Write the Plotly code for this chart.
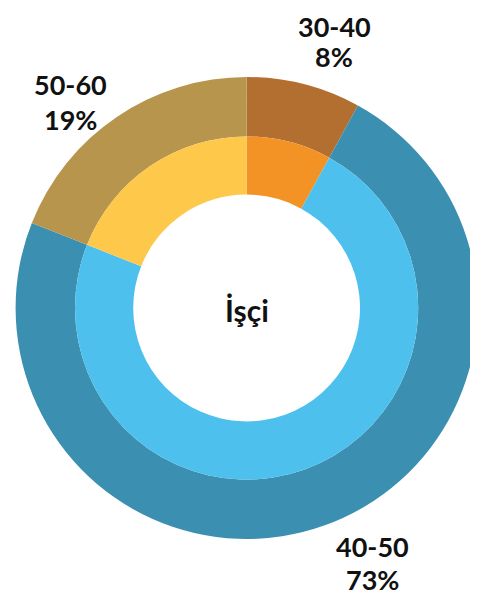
import plotly.graph_objects as go

categories = ["30-40", "40-50", "50-60"]
outer_values = [8, 73, 19]
inner_values = [8, 73, 19]
outer_colors = ["#B36F2F", "#3B8FB0", "#B8954D"]
inner_colors = ["#F39325", "#4EC0EE", "#FEC84A"]
center_title = "İşçi"

OFF = 8  # page body margin
W, H = 478 - OFF, 599 - OFF
cx, cy = 246.6 - OFF, 308.0 - OFF  # pixels inside the figure
r_out, r_mid, r_in = 231.0, 171.6, 113.4


def dom(r):
    return dict(x=[(cx - r) / W, (cx + r) / W],
                y=[(H - cy - r) / H, (H - cy + r) / H])


fig = go.Figure()
fig.add_trace(go.Pie(
    labels=categories, values=outer_values, hole=r_mid / r_out,
    sort=False, direction="clockwise", rotation=0,
    marker=dict(colors=outer_colors, line=dict(width=0)),
    textinfo="none", hoverinfo="label+percent", showlegend=False,
    domain=dom(r_out),
))
fig.add_trace(go.Pie(
    labels=categories, values=inner_values, hole=r_in / r_mid,
    sort=False, direction="clockwise", rotation=0,
    marker=dict(colors=inner_colors, line=dict(width=0)),
    textinfo="none", hoverinfo="label+percent", showlegend=False,
    domain=dom(r_mid),
))

total = sum(outer_values)
# (x centre, y centre of category line, y centre of percent line) in page pixels
label_pos = {"30-40": (334, 23, 57), "40-50": (372, 546, 579), "50-60": (70, 84, 119)}
font = dict(family="Lato", size=27, color="#111111", weight="bold")
annotations = []
for cat, v in zip(categories, outer_values):
    px, py1, py2 = label_pos[cat]
    top_line = dict(text=cat, x=(px - OFF) / W, xref="paper", yref="paper",
                    showarrow=False, xanchor="center", font=font)
    if py1 - OFF < 18:
        top_line.update(y=1.0, yanchor="top")
    else:
        top_line.update(y=(H - (py1 - OFF)) / H, yanchor="middle")
    annotations.append(top_line)
    annotations.append(dict(
        text=f"{round(100 * v / total)}%",
        x=(px - OFF) / W, y=(H - (py2 - OFF)) / H, xref="paper", yref="paper",
        showarrow=False, xanchor="center", yanchor="middle", font=font,
    ))
annotations.append(dict(
    text=f"<b>{center_title}</b>", x=cx / W, y=(H - (310 - OFF)) / H,
    xref="paper", yref="paper", showarrow=False,
    xanchor="center", yanchor="middle",
    font=dict(family="Lato", size=30, color="#111111"),
))

fig.update_layout(
    width=W, height=H, margin=dict(l=0, r=0, t=0, b=0),
    paper_bgcolor="white", plot_bgcolor="white",
    annotations=annotations,
)
fig.write_html("out.html")
